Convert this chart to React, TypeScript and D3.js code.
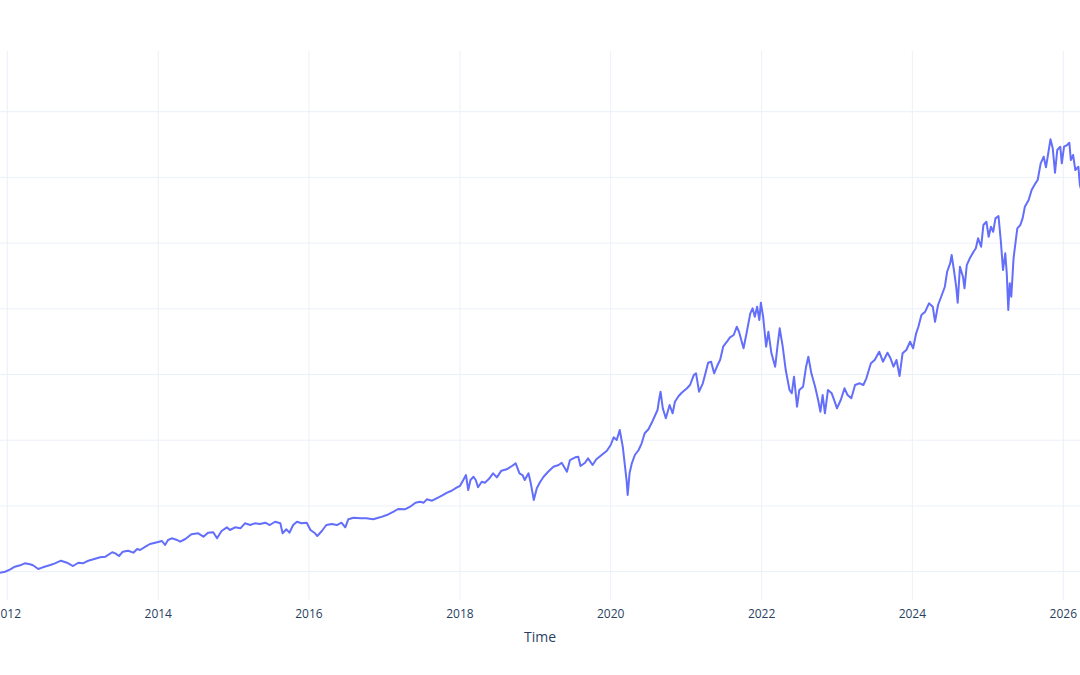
import React from "react"
import * as d3 from "d3"

// decimal years and closing values
const years = [
  2011.9, 2011.97, 2012.04, 2012.1, 2012.17, 2012.23, 2012.3, 2012.34, 2012.41, 2012.47, 2012.57, 2012.63, 2012.71,
  2012.79, 2012.87, 2012.94, 2013.0, 2013.06, 2013.14, 2013.23, 2013.3, 2013.39, 2013.43, 2013.48, 2013.53, 2013.6,
  2013.67, 2013.72, 2013.76, 2013.83, 2013.89, 2013.96, 2014.05, 2014.09, 2014.13, 2014.18, 2014.25, 2014.29,
  2014.36, 2014.44, 2014.53, 2014.6, 2014.66, 2014.73, 2014.78, 2014.84, 2014.91, 2014.95, 2015.02, 2015.09,
  2015.15, 2015.22, 2015.28, 2015.35, 2015.42, 2015.48, 2015.55, 2015.62, 2015.65, 2015.7, 2015.74, 2015.79,
  2015.84, 2015.9, 2015.97, 2016.02, 2016.08, 2016.11, 2016.17, 2016.23, 2016.3, 2016.37, 2016.43, 2016.48,
  2016.52, 2016.59, 2016.68, 2016.76, 2016.85, 2016.94, 2017.03, 2017.12, 2017.18, 2017.27, 2017.34, 2017.41,
  2017.47, 2017.52, 2017.56, 2017.63, 2017.69, 2017.76, 2017.83, 2017.89, 2017.96, 2018.0, 2018.05, 2018.08,
  2018.11, 2018.14, 2018.18, 2018.21, 2018.24, 2018.29, 2018.33, 2018.38, 2018.44, 2018.49, 2018.55, 2018.62,
  2018.69, 2018.74, 2018.79, 2018.83, 2018.86, 2018.91, 2018.94, 2018.98, 2019.02, 2019.06, 2019.11, 2019.17,
  2019.24, 2019.31, 2019.35, 2019.42, 2019.46, 2019.53, 2019.57, 2019.6, 2019.66, 2019.7, 2019.76, 2019.81,
  2019.88, 2019.95, 2020.0, 2020.04, 2020.08, 2020.12, 2020.16, 2020.19, 2020.21, 2020.225, 2020.25, 2020.28,
  2020.32, 2020.37, 2020.41, 2020.45, 2020.5, 2020.54, 2020.59, 2020.62, 2020.64, 2020.66, 2020.69, 2020.73,
  2020.78, 2020.82, 2020.85, 2020.9, 2020.94, 2021.01, 2021.05, 2021.1, 2021.13, 2021.17, 2021.22, 2021.26,
  2021.29, 2021.33, 2021.37, 2021.41, 2021.45, 2021.49, 2021.54, 2021.58, 2021.63, 2021.67, 2021.7, 2021.76,
  2021.8, 2021.85, 2021.88, 2021.91, 2021.94, 2021.97, 2021.99, 2022.02, 2022.06, 2022.09, 2022.13, 2022.18,
  2022.21, 2022.24, 2022.28, 2022.32, 2022.37, 2022.4, 2022.43, 2022.47, 2022.5, 2022.55, 2022.59, 2022.62,
  2022.66, 2022.71, 2022.75, 2022.78, 2022.81, 2022.84, 2022.88, 2022.93, 2022.97, 2023.0, 2023.05, 2023.1,
  2023.14, 2023.19, 2023.24, 2023.3, 2023.35, 2023.39, 2023.45, 2023.5, 2023.56, 2023.61, 2023.67, 2023.71,
  2023.75, 2023.79, 2023.83, 2023.87, 2023.92, 2023.97, 2024.01, 2024.05, 2024.08, 2024.12, 2024.17, 2024.22,
  2024.27, 2024.3, 2024.34, 2024.39, 2024.43, 2024.46, 2024.5, 2024.52, 2024.55, 2024.58, 2024.6, 2024.63,
  2024.67, 2024.69, 2024.72, 2024.76, 2024.81, 2024.84, 2024.87, 2024.91, 2024.94, 2024.98, 2025.01, 2025.04,
  2025.07, 2025.1, 2025.14, 2025.17, 2025.2, 2025.23, 2025.25, 2025.27, 2025.29, 2025.31, 2025.34, 2025.37,
  2025.39, 2025.43, 2025.46, 2025.49, 2025.54, 2025.58, 2025.63, 2025.66, 2025.7, 2025.74, 2025.77, 2025.8,
  2025.83, 2025.86, 2025.89, 2025.92, 2025.96, 2025.98, 2026.01, 2026.05, 2026.08, 2026.1, 2026.13, 2026.16,
  2026.2, 2026.22, 2026.24,
]

const values = [
  98.3, 99.8, 103.5, 107.5, 109.6, 112.6, 111.1, 109.6, 104.0, 106.5, 110.0, 112.6, 116.6,
  113.5, 108.5, 113.5, 112.6, 116.1, 118.7, 121.8, 122.7, 129.4, 127.8, 123.7, 130.3, 131.8,
  128.8, 134.4, 132.9, 137.9, 142.0, 144.0, 146.6, 140.5, 148.1, 150.7, 148.1, 145.5,
  149.6, 156.8, 158.3, 153.1, 159.2, 159.8, 150.7, 161.8, 167.4, 163.3, 167.4, 165.9,
  173.5, 170.9, 173.5, 172.4, 174.4, 170.9, 175.9, 173.5, 158.3, 164.4, 159.2, 170.9,
  175.9, 173.5, 174.4, 163.3, 158.3, 154.2, 161.8, 170.9, 172.4, 170.9, 174.4, 167.4,
  179.6, 182.0, 181.1, 181.1, 179.6, 182.6, 186.1, 191.2, 195.3, 194.8, 198.8, 204.9,
  206.4, 204.9, 210.0, 207.9, 211.6, 215.5, 220.1, 223.1, 228.3, 230.3, 240.5, 247.0,
  224.2, 239.4, 244.4, 239.4, 228.3, 236.8, 235.3, 240.5, 249.6, 243.5, 253.6, 255.7,
  260.7, 264.8, 249.6, 247.0, 239.4, 249.6, 234.4, 209.0, 226.8, 235.6, 244.4, 252.0,
  259.7, 262.2, 265.7, 252.0, 269.8, 274.0, 274.9, 260.7, 265.7, 272.4, 262.2, 270.9,
  277.5, 284.0, 292.7, 304.4, 300.3, 315.5, 290.1, 259.7, 239.4, 216.6, 249.6, 264.8,
  277.5, 285.1, 295.3, 310.5, 316.6, 325.7, 338.3, 346.0, 361.2, 373.8, 348.5, 333.3,
  353.6, 340.9, 358.6, 367.3, 372.3, 379.0, 384.0, 399.2, 401.8, 373.8, 386.6, 404.2,
  417.9, 419.5, 401.8, 412.9, 422.5, 442.3, 449.9, 456.6, 460.1, 472.7, 465.1, 439.9,
  462.7, 493.1, 500.7, 488.0, 503.2, 482.9, 509.3, 488.0, 442.3, 465.1, 432.2, 411.9,
  442.3, 470.3, 442.3, 406.8, 376.4, 371.4, 396.6, 351.0, 376.4, 381.4, 411.9, 427.1,
  401.8, 381.4, 361.2, 343.4, 368.8, 340.9, 376.4, 371.4, 358.6, 348.5, 361.2, 379.0,
  368.8, 363.8, 384.0, 386.6, 384.0, 394.2, 417.0, 422.1, 434.7, 419.5, 433.2, 424.6,
  411.9, 422.1, 397.7, 432.2, 437.3, 449.9, 439.9, 462.7, 472.7, 490.5, 495.6, 508.3,
  503.2, 480.3, 505.8, 521.0, 533.6, 556.4, 569.2, 581.9, 559.0, 533.6, 509.3, 564.1,
  548.8, 531.2, 566.6, 576.8, 586.9, 592.1, 607.3, 594.5, 627.5, 632.5, 609.7, 624.9,
  617.3, 637.7, 641.2, 604.7, 559.0, 584.4, 554.0, 498.2, 538.8, 518.4, 576.8, 604.7,
  622.5, 627.5, 637.7, 655.4, 665.6, 680.8, 691.0, 696.0, 721.4, 731.5, 715.3, 736.6,
  758.0, 744.3, 707.1, 741.7, 746.7, 721.4, 746.7, 749.3, 752.8, 726.5, 734.1, 711.2,
  716.3, 688.4, 680.0,
]

const xTickYears = [2012, 2014, 2016, 2018, 2020, 2022, 2024, 2026]
const yTicks = [100, 200, 300, 400, 500, 600, 700, 800]

const toDate = (y: number) => {
  const yr = Math.floor(y)
  const start = Date.UTC(yr, 0, 1)
  const end = Date.UTC(yr + 1, 0, 1)
  return new Date(start + (y - yr) * (end - start))
}

const W = 1080
const H = 675
const plotTop = 51
const plotBottom = 600
const font = '"Open Sans", verdana, arial, sans-serif'

export default function App() {
  const x = d3
    .scaleUtc()
    .domain([new Date(Date.UTC(2012, 0, 1)), new Date(Date.UTC(2026, 0, 1))])
    .range([7.3, 1063.3])
  const y = d3.scaleLinear().domain([100, 800]).range([571.6, 111.7])

  const data = years.map((yr, i) => ({ date: toDate(yr), value: values[i] }))
  const line = d3
    .line<{ date: Date; value: number }>()
    .x((d) => x(d.date))
    .y((d) => y(d.value))

  return (
    <svg
      width={W}
      height={H}
      style={{ position: "absolute", left: 0, top: 0, background: "#fff" }}
      fontFamily={font}
    >
      <defs>
        <clipPath id="plot">
          <rect x={0} y={plotTop} width={W} height={plotBottom - plotTop} />
        </clipPath>
      </defs>
      {yTicks.map((t) => (
        <line key={t} x1={0} x2={W} y1={y(t)} y2={y(t)} stroke="#EBF0F8" strokeWidth={1} />
      ))}
      {xTickYears.map((yr) => {
        const px = x(new Date(Date.UTC(yr, 0, 1)))
        return (
          <g key={yr}>
            <line x1={px} x2={px} y1={plotTop} y2={plotBottom} stroke="#EBF0F8" strokeWidth={1} />
            <text x={px} y={618} textAnchor="middle" fontSize={12} fill="#2a3f5f">
              {yr}
            </text>
          </g>
        )
      })}
      <path
        d={line(data) || ""}
        fill="none"
        stroke="#636efa"
        strokeWidth={2}
        strokeLinejoin="round"
        clipPath="url(#plot)"
      />
      <text x={540} y={642} textAnchor="middle" fontSize={14} fill="#2a3f5f">
        Time
      </text>
    </svg>
  )
}
